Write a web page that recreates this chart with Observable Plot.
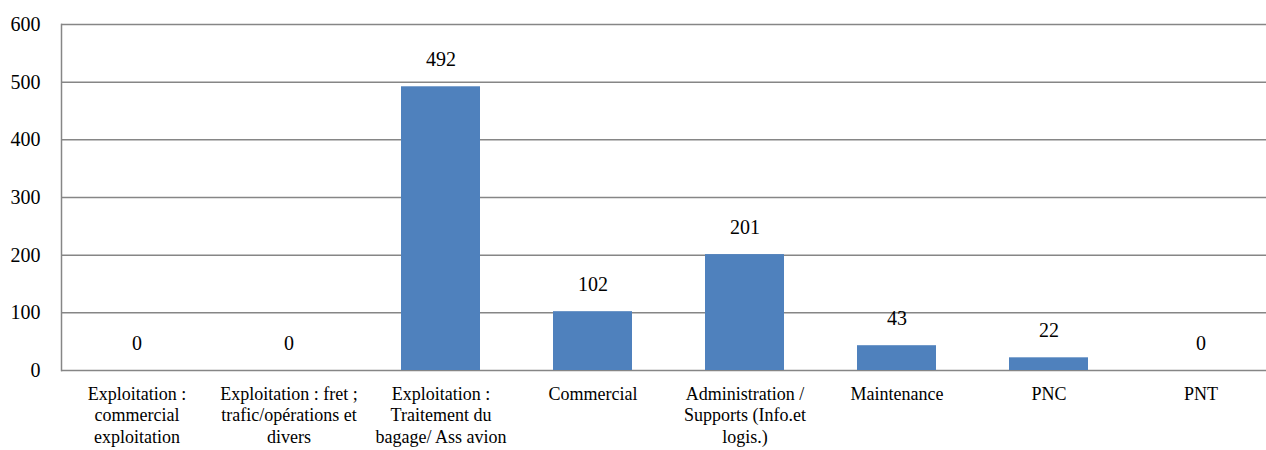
<!DOCTYPE html>
<html>
<head>
<meta charset="utf-8">
<script src="https://cdn.jsdelivr.net/npm/d3@7"></script>
<script src="https://cdn.jsdelivr.net/npm/@observablehq/plot@0.6"></script>
<style>
  html, body { margin: 0; padding: 0; background: #fff; }
  svg { display: block; }
</style>
</head>
<body>
<div id="chart"></div>
<script>
const categories = [
  "Exploitation : commercial exploitation",
  "Exploitation : fret ; trafic/opérations et divers",
  "Exploitation : Traitement du bagage/ Ass avion",
  "Commercial",
  "Administration / Supports (Info.et logis.)",
  "Maintenance",
  "PNC",
  "PNT"
];
const tickLabels = [
  "Exploitation :\ncommercial\nexploitation",
  "Exploitation : fret ;\ntrafic/opérations et\ndivers",
  "Exploitation :\nTraitement du\nbagage/ Ass avion",
  "Commercial",
  "Administration /\nSupports (Info.et\nlogis.)",
  "Maintenance",
  "PNC",
  "PNT"
];
const values = [0, 0, 492, 102, 201, 43, 22, 0];
const yTicks = [0, 100, 200, 300, 400, 500, 600];

const data = categories.map((c, i) => ({category: c, value: values[i]}));
const labelOf = new Map(categories.map((c, i) => [c, tickLabels[i]]));

const serif = "'Liberation Serif', 'Times New Roman', 'DejaVu Serif', serif";

const chart = Plot.plot({
  width: 1266,
  height: 450,
  marginTop: 24,
  marginBottom: 80,
  marginLeft: 61,
  marginRight: 0,
  style: {background: "#fff", color: "#000"},
  x: {domain: categories, range: [60.5, 1276.5], paddingInner: 0.48, paddingOuter: 0.24, label: null},
  y: {domain: [0, 600], label: null},
  marks: [
    Plot.ruleY(yTicks, {stroke: "#868686", strokeWidth: 1.5}),
    Plot.frame({anchor: "left", stroke: "#868686", strokeWidth: 1.5}),
    Plot.barY(data, {x: "category", y: "value", fill: "#4F81BD"}),
    Plot.text(data, {x: "category", y: "value", text: d => String(d.value), dy: -27, fontSize: 20, fill: "#000"}),
    Plot.axisY({ticks: yTicks, tickSize: 0, tickPadding: 21, fontSize: 20, label: null, tickFormat: d => String(d)}),
    Plot.axisX({tickSize: 0, tickPadding: 14, fontSize: 18, lineHeight: 1.2, label: null, tickFormat: d => labelOf.get(d)})
  ]
});
chart.setAttribute("font-family", serif);
chart.style.fontFamily = serif;
chart.querySelectorAll("g, text").forEach(t => {
  t.setAttribute("font-family", serif);
  t.style.fontFamily = serif;
});
chart.querySelectorAll("text").forEach(t => { t.style.fill = "#000"; });
document.getElementById("chart").appendChild(chart);
</script>
</body>
</html>
